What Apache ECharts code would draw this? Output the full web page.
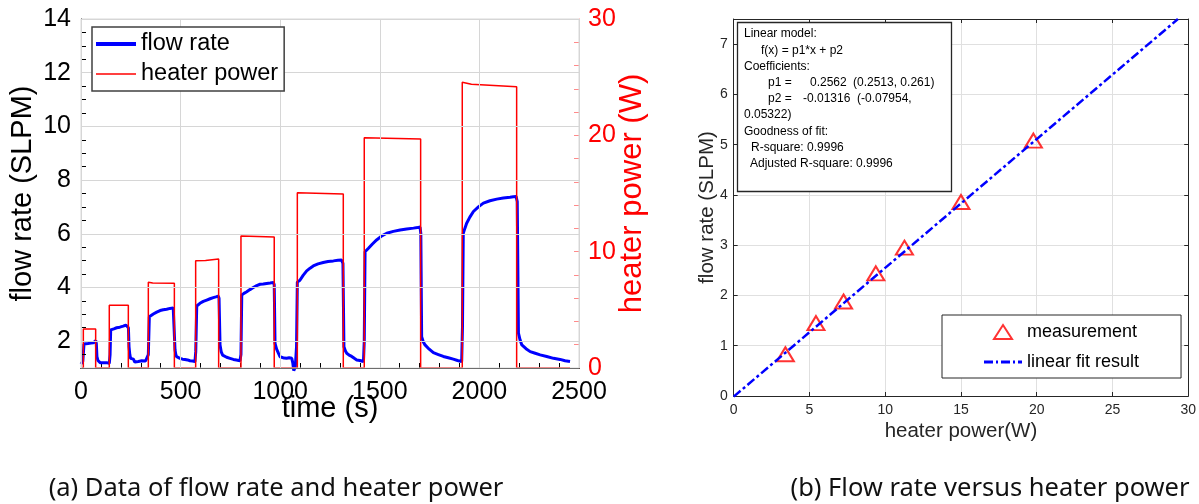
<!DOCTYPE html>
<html><head><meta charset="utf-8">
<script src="https://cdn.jsdelivr.net/npm/echarts@6/dist/echarts.min.js"></script>
<style>html,body{margin:0;padding:0;background:#fff;overflow:hidden}.c{position:absolute;left:0;top:0;width:1199px;height:504px;}</style>
</head><body><div class="c" id="ca"></div><div class="c" id="cg"></div><div class="c" id="cb"></div>
<script>
// ---- (a) flow rate vs time ----
const flowTime = [0,5,9,12,15,22,35,50,62,70,74,77,80,85,89,96,104,112,120,129,136,142,146,149,154,165,179,195,212,225,234,238,241,245,249,256,263,270,279,288,296,305,315,324,333,338,343,352,363,380,397,413,430,447,463,468,472,476,480,488,497,510,522,535,547,560,572,576,581,589,597,614,631,648,664,677,689,693,698,704,711,720,731,748,765,780,798,803,807,818,832,848,865,882,899,915,932,950,966,970,974,982,991,999,1007,1020,1032,1045,1058,1063,1068,1072,1076,1082,1086,1092,1099,1115,1133,1150,1166,1190,1216,1240,1267,1290,1308,1315,1320,1327,1334,1346,1359,1372,1384,1400,1410,1418,1422,1426,1434,1443,1463,1484,1510,1535,1568,1602,1635,1669,1690,1702,1706,1710,1718,1727,1748,1769,1794,1819,1844,1869,1890,1911,1915,1919,1927,1936,1952,1970,1995,2020,2053,2087,2120,2154,2170,2184,2190,2196,2204,2213,2234,2255,2280,2305,2338,2372,2405,2430,2455];
const flowRate = [1.15,1.12,1.25,1.3,1.89,1.92,1.91,1.93,1.94,1.97,2.02,1.9,1.42,1.28,1.22,1.2,1.17,1.2,1.16,1.2,1.18,1.17,1.5,2.42,2.44,2.46,2.5,2.52,2.56,2.6,2.63,2.5,1.8,1.5,1.36,1.3,1.33,1.22,1.28,1.24,1.3,1.27,1.22,1.26,1.21,1.5,2.91,2.97,3.01,3.08,3.14,3.17,3.19,3.22,3.24,3.2,1.67,1.5,1.42,1.38,1.36,1.33,1.32,1.3,1.27,1.26,1.24,1.6,3.31,3.37,3.41,3.48,3.53,3.58,3.62,3.65,3.68,3.6,1.86,1.6,1.48,1.43,1.4,1.36,1.32,1.3,1.27,1.5,3.72,3.78,3.84,3.92,4.0,4.07,4.12,4.13,4.15,4.17,4.19,4.1,1.92,1.7,1.55,1.42,1.4,1.37,1.36,1.38,1.36,1.2,0.9,0.86,1.05,1.8,4.2,4.24,4.27,4.45,4.62,4.72,4.8,4.88,4.93,4.97,4.99,5.01,5.02,4.9,1.79,1.64,1.55,1.48,1.43,1.36,1.3,1.28,1.33,1.24,2.0,5.33,5.4,5.46,5.62,5.77,5.92,6.02,6.09,6.14,6.18,6.21,6.23,6.25,6.0,2.17,1.98,1.86,1.7,1.57,1.5,1.43,1.38,1.33,1.28,1.24,2.5,6.02,6.2,6.39,6.62,6.83,7.0,7.14,7.23,7.29,7.33,7.36,7.38,7.39,7.2,2.3,2.05,1.86,1.72,1.61,1.55,1.49,1.43,1.36,1.32,1.27,1.24];
// heater power (W) step profile
const heaterTime  = [0,11.7,11.7,73.6,73.6,142,142,237.6,237.6,338,338,360,468.7,468.7,575.6,575.6,625,630,691,691,803,803,970,970,1086,1086,1316.7,1316.7,1422,1422,1705,1705,1914,1914,1960,2187,2187,2455];
const heaterPower = [0,0,3.35,3.35,0,0,5.39,5.39,0,0,7.37,7.3,7.28,0,0,9.22,9.25,9.37,9.37,0,0,11.35,11.26,0,0,15.07,14.96,0,0,19.8,19.69,0,0,24.56,24.39,24.18,0,0];
const leftYTicks = [2,4,6,8,10,12,14];
// ---- (b) flow rate vs heater power ----
const measPower = [3.41,5.43,7.25,9.38,11.27,15.0,19.78];
const measFlow  = [0.83,1.45,1.88,2.44,2.95,3.86,5.08];
const fitPower  = [0, 29.32];
const fitFlow   = [-0.013, 7.499];
const fitBoxText = ['Linear model:','f(x) = p1*x + p2','Coefficients:','p1 =','0.2562','(0.2513, 0.261)','p2 =','-0.01316','(-0.07954,','0.05322)','Goodness of fit:','R-square: 0.9996','Adjusted R-square: 0.9996'];
const captions = ['(a) Data of flow rate and heater power','(b) Flow rate versus heater power'];

const F = "'Liberation Sans', Arial, Helvetica, sans-serif";
const CF = "'Noto Sans', sans-serif";
const zip = (a,b) => a.map((v,i)=>[v,b[i]]);
const plain = v => String(v);
const dark = '#262626';
const gridA = {left:81, top:19, width:498, height:349};

// ================= chart (a) data layer =================
const chartA = echarts.init(document.getElementById('ca'), null, {renderer:'canvas'});
chartA.setOption({
  animation:false,
  backgroundColor:'#fff',
  textStyle:{fontFamily:F},
  grid:Object.assign({}, gridA),
  xAxis:[
    {type:'value', min:0, max:2500, interval:500, position:'bottom',
     name:'time (s)', nameLocation:'middle', nameGap:26, nameMoveOverlap:false, nameTextStyle:{fontSize:29, color:'#000', fontFamily:F},
     axisLine:{onZero:false, lineStyle:{color:'#000', width:1}},
     axisTick:{inside:true, length:5, lineStyle:{color:'#000'}},
     minorTick:{show:true, splitNumber:5, length:5, lineStyle:{color:'#000'}},
     axisLabel:{fontSize:25, color:'#000', margin:12, fontFamily:F, formatter:plain},
     splitLine:{show:false}},
    {type:'value', min:0, max:2500, position:'bottom', z:10,
     axisLine:{onZero:false, lineStyle:{color:'#000', width:1}}, axisTick:{show:false}, axisLabel:{show:false}, splitLine:{show:false}}
  ],
  yAxis:[
    {type:'value', min:1, max:14, position:'left',
     name:'flow rate (SLPM)', nameLocation:'middle', nameGap:44, nameMoveOverlap:false, nameTextStyle:{fontSize:29, color:'#000', fontFamily:F},
     axisLine:{show:true, onZero:false, lineStyle:{color:'#000'}},
     axisTick:{show:false, customValues:leftYTicks},
     axisLabel:{fontSize:25, color:'#000', margin:10, fontFamily:F, customValues:leftYTicks, formatter:plain},
     splitLine:{show:false}},
    {type:'value', min:0, max:30, interval:10, position:'right',
     name:'heater power (W)', nameLocation:'middle', nameGap:38, nameMoveOverlap:false, nameRotate:90, nameTextStyle:{fontSize:31, color:'#ff0000', fontFamily:F},
     axisLine:{show:true, onZero:false, lineStyle:{color:'#ff8a8a'}},
     axisTick:{inside:true, length:5, lineStyle:{color:'#ff8a8a'}},
     minorTick:{show:true, splitNumber:5, length:5, lineStyle:{color:'#ff8a8a'}},
     axisLabel:{fontSize:25, color:'#ff0000', margin:9, fontFamily:F},
     splitLine:{show:false}},
    {type:'value', min:1, max:14, interval:0.5, position:'left', z:10,
     axisLine:{show:true, onZero:false, lineStyle:{color:'#000'}},
     axisTick:{show:true, inside:true, length:5, lineStyle:{color:'#000'}},
     axisLabel:{show:false}, splitLine:{show:false}}
  ],
  series:[
    {name:'flow rate', type:'line', xAxisIndex:0, yAxisIndex:0, data:zip(flowTime, flowRate), symbol:'none', clip:false,
     lineStyle:{color:'#0000ff', width:3}, itemStyle:{color:'#0000ff'}, z:2},
    {name:'heater power', type:'line', xAxisIndex:0, yAxisIndex:1, data:zip(heaterTime, heaterPower), symbol:'none',
     lineStyle:{color:'#ff0000', width:1.5}, itemStyle:{color:'#ff0000'}, z:3}
  ],
  graphic:[{type:'text', x:276, y:489, z:101, style:{text:captions[0], font:"25.5px "+CF, fill:'#111', textAlign:'center', textVerticalAlign:'middle'}}]
});

// ================= chart (a) grid-line + legend layer =================
const chartG = echarts.init(document.getElementById('cg'), null, {renderer:'canvas'});
chartG.setOption({
  animation:false,
  backgroundColor:'transparent',
  grid:Object.assign({show:true, borderColor:'#d9d9d9', borderWidth:1, backgroundColor:'transparent'}, gridA),
  legend:{data:[{name:'flow rate', icon:'path://M0,0L40,0L40,4L0,4Z'},{name:'heater power', icon:'path://M0,0L40,0L40,1.5L0,1.5Z'}],
     left:92, top:27, orient:'vertical', itemWidth:40, itemHeight:14, itemGap:6, padding:[5,6,5,4], z:20,
     borderColor:'#404040', borderWidth:1.5, backgroundColor:'#fff', borderRadius:0,
     textStyle:{fontSize:23.5, lineHeight:24, color:'#000', fontFamily:F}},
  xAxis:{type:'value', min:0, max:2500, interval:500, axisLine:{show:false, onZero:false}, axisTick:{show:false}, axisLabel:{show:false},
         splitLine:{show:true, lineStyle:{color:'#d6d6d6', width:1}}},
  yAxis:{type:'value', min:1, max:14, axisLine:{show:false, onZero:false}, axisTick:{show:false, customValues:leftYTicks},
         axisLabel:{show:false, customValues:leftYTicks}, splitLine:{show:true, lineStyle:{color:'#d6d6d6', width:1}}},
  series:[
    {name:'flow rate', type:'line', data:[], symbol:'none', lineStyle:{color:'#0000ff', width:3}, itemStyle:{color:'#0000ff'}},
    {name:'heater power', type:'line', data:[], symbol:'none', lineStyle:{color:'#ff0000', width:1.5}, itemStyle:{color:'#ff0000'}}
  ]
});

// ================= chart (b) =================
const boxLayout = [[0,744,34],[1,761,51],[2,744,67],[3,768,83],[4,810,83],[5,853,83],[6,768,99],[7,803,99],[8,857,99],[9,744,115],[10,744,132],[11,751,148],[12,750,164]];
const graphicsB = [{type:'rect', shape:{x:737.5,y:22.5,width:214,height:169}, style:{fill:'#fff',stroke:dark,lineWidth:1.3}, z:100}];
boxLayout.forEach(([i,x,y]) => graphicsB.push({type:'text', x:x, y:y, z:101, style:{text:fitBoxText[i], font:"12px "+F, fill:'#000', textVerticalAlign:'middle'}}));
graphicsB.push({type:'text', x:990, y:489, z:101, style:{text:captions[1], font:"25.5px "+CF, fill:'#111', textAlign:'center', textVerticalAlign:'middle'}});

const chartB = echarts.init(document.getElementById('cb'), null, {renderer:'canvas'});
chartB.setOption({
  animation:false,
  backgroundColor:'transparent',
  textStyle:{fontFamily:F},
  grid:{left:733.7, top:19, width:455, height:377},
  legend:{data:[{name:'measurement', icon:'path://M9,0L18,14L0,14Z', itemStyle:{color:'rgba(0,0,0,0)', borderColor:'#ff0000', borderWidth:2}},
           {name:'linear fit result', icon:'path://M0,0L9,0L9,3L0,3Z M12,0L14,0L14,3L12,3Z M17,0L26,0L26,3L17,3Z M29,0L31,0L31,3L29,3Z M34,0L38,0L38,3L34,3Z'}],
     left:942, top:315, orient:'vertical', itemWidth:38, itemHeight:14, itemGap:12, padding:[8,42,7,42],
     borderColor:dark, borderWidth:1, backgroundColor:'#fff', borderRadius:0,
     textStyle:{fontSize:18, lineHeight:18, color:'#000', fontFamily:F}},
  xAxis:[
    {type:'value', min:0, max:30, interval:5, position:'bottom',
     name:'heater power(W)', nameLocation:'middle', nameGap:25, nameMoveOverlap:false, nameTextStyle:{fontSize:20.5, color:dark, fontFamily:F},
     axisLine:{onZero:false, lineStyle:{color:dark}}, axisTick:{inside:true, length:4, lineStyle:{color:dark}},
     axisLabel:{fontSize:14, color:dark, margin:7, fontFamily:F, formatter:plain},
     splitLine:{show:true, lineStyle:{color:'#e0e0e0'}}},
    {type:'value', min:0, max:30, interval:5, position:'top',
     axisLine:{onZero:false, lineStyle:{color:dark}}, axisTick:{inside:true, length:4, lineStyle:{color:dark}},
     axisLabel:{show:false}, splitLine:{show:false}}
  ],
  yAxis:[
    {type:'value', min:0, max:7.5, interval:1, position:'left',
     name:'flow rate (SLPM)', nameLocation:'middle', nameGap:16, nameMoveOverlap:false, nameTextStyle:{fontSize:20.5, color:dark, fontFamily:F},
     axisLine:{show:true, onZero:false, lineStyle:{color:dark}}, axisTick:{inside:true, length:4, lineStyle:{color:dark}},
     axisLabel:{fontSize:14, color:dark, margin:6, fontFamily:F, formatter:v => (Number.isInteger(v) ? String(v) : '')},
     splitLine:{show:true, lineStyle:{color:'#e0e0e0'}}},
    {type:'value', min:0, max:7.5, interval:1, position:'right',
     axisLine:{show:true, onZero:false, lineStyle:{color:dark}}, axisTick:{inside:true, length:4, lineStyle:{color:dark}},
     axisLabel:{show:false}, splitLine:{show:false}}
  ],
  series:[
    {name:'measurement', type:'scatter', xAxisIndex:0, yAxisIndex:0, data:zip(measPower, measFlow), symbol:'triangle', symbolSize:[17,14],
     itemStyle:{color:'rgba(0,0,0,0)', borderColor:'#ff0000', borderWidth:2}, z:3},
    {name:'linear fit result', type:'line', xAxisIndex:0, yAxisIndex:0, data:zip(fitPower, fitFlow), symbol:'none', clip:false,
     lineStyle:{color:'#0000ff', width:2.5, type:[9,3,3,3]}, itemStyle:{color:'#0000ff'}, z:4}
  ],
  graphic:graphicsB
});
</script></body></html>
